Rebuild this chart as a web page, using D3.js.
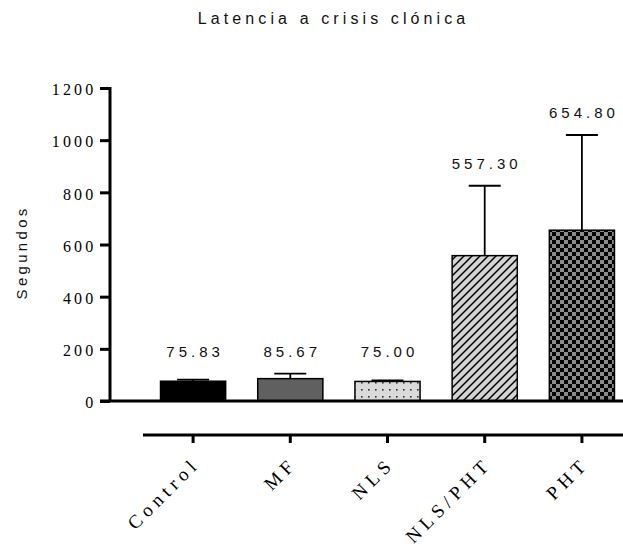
<!DOCTYPE html>
<html>
<head>
<meta charset="utf-8">
<script src="https://cdn.jsdelivr.net/npm/d3@7"></script>
<style>
  html, body { margin: 0; padding: 0; background: #fff; }
  svg { display: block; }
</style>
</head>
<body>
<svg id="chart" width="623" height="550"></svg>
<script>
// Group names, mean latency (s) and error (SEM)
const categories = ["Control", "MF", "NLS", "NLS/PHT", "PHT"];
const means = [75.83, 85.67, 75.00, 557.30, 654.80];
const errors = [6, 19, 4, 268, 365];
const valueLabels = ["75.83", "85.67", "75.00", "557.30", "654.80"];
const yTicks = [0, 200, 400, 600, 800, 1000, 1200];

const svg = d3.select("#chart");
const defs = svg.append("defs");

// Fill patterns for each group
const hatch = defs.append("pattern").attr("id", "hatch")
  .attr("patternUnits", "userSpaceOnUse").attr("width", 8).attr("height", 8);
hatch.append("rect").attr("width", 8).attr("height", 8).attr("fill", "#d4d4d4");
hatch.append("path").attr("d", "M-2,2 L2,-2 M0,8 L8,0 M6,10 L10,6")
  .attr("stroke", "#000").attr("stroke-width", 1.5);

const checker = defs.append("pattern").attr("id", "checker")
  .attr("patternUnits", "userSpaceOnUse").attr("width", 8).attr("height", 8);
checker.append("rect").attr("width", 8).attr("height", 8).attr("fill", "#8a8a8a");
checker.append("rect").attr("width", 4).attr("height", 4).attr("fill", "#000");
checker.append("rect").attr("x", 4).attr("y", 4).attr("width", 4).attr("height", 4).attr("fill", "#000");

const dots = defs.append("pattern").attr("id", "dots")
  .attr("patternUnits", "userSpaceOnUse").attr("width", 7).attr("height", 7)
  .attr("x", 2).attr("y", 2);
dots.append("rect").attr("width", 7).attr("height", 7).attr("fill", "#dadada");
dots.append("rect").attr("x", 2).attr("y", 2).attr("width", 1.6).attr("height", 1.6).attr("fill", "#333");

const fills = ["#000", "#606060", "url(#dots)", "url(#hatch)", "url(#checker)"];

const x = d3.scaleBand().domain(categories).range([144, 631]).paddingInner(0.33).paddingOuter(0.17);
const y = d3.scaleLinear().domain([0, 1200]).range([401, 88]);

const sans = "Liberation Sans, Arial, sans-serif";
const serif = "Liberation Serif, Times New Roman, serif";

// Title
const titleLs = 4.1;
svg.append("text")
  .attr("x", 331.5 + titleLs / 2).attr("y", 24)
  .attr("text-anchor", "middle")
  .attr("font-family", sans)
  .attr("font-size", 16)
  .attr("letter-spacing", titleLs)
  .attr("fill", "#111")
  .text("Latencia a crisis clónica");

// Y axis label
svg.append("text")
  .attr("transform", "translate(27,254) rotate(-90)")
  .attr("text-anchor", "middle")
  .attr("font-family", sans)
  .attr("font-size", 15)
  .attr("letter-spacing", 3.3)
  .attr("dx", 1.6)
  .attr("fill", "#111")
  .text("Segundos");

// Y axis
const yAxis = svg.append("g")
  .attr("transform", "translate(110,0)")
  .call(d3.axisLeft(y).tickValues(yTicks).tickSize(10).tickPadding(3.5).tickFormat(d3.format("d")));
yAxis.select(".domain").attr("stroke-width", 3).attr("d", `M0,${y(1200) - 1}V${y(0)}`);
yAxis.selectAll(".tick line").attr("stroke-width", 3);
yAxis.selectAll(".tick text")
  .attr("font-family", serif)
  .attr("font-size", 16)
  .attr("letter-spacing", 3.2)
  .attr("dy", "0.42em")
  .attr("fill", "#000");

// Bars
const bars = svg.append("g");
bars.selectAll("rect").data(categories).join("rect")
  .attr("x", d => x(d))
  .attr("y", (d, i) => y(means[i]))
  .attr("width", x.bandwidth())
  .attr("height", (d, i) => y(0) - y(means[i]))
  .attr("fill", (d, i) => fills[i])
  .attr("stroke", "#000")
  .attr("stroke-width", 1.5);

// Error bars (upper)
const eb = svg.append("g").attr("stroke", "#000").attr("stroke-width", 1.8);
categories.forEach((c, i) => {
  const cx = x(c) + x.bandwidth() / 2;
  eb.append("line").attr("x1", cx).attr("x2", cx)
    .attr("y1", y(means[i])).attr("y2", y(means[i] + errors[i]));
  eb.append("line").attr("x1", cx - 16).attr("x2", cx + 16)
    .attr("y1", y(means[i] + errors[i])).attr("y2", y(means[i] + errors[i]));
});

// Baseline at zero
svg.append("line")
  .attr("x1", 100).attr("x2", 623)
  .attr("y1", y(0)).attr("y2", y(0))
  .attr("stroke", "#000").attr("stroke-width", 3);

// Value labels above each bar
const valLs = 4;
svg.append("g").selectAll("text").data(categories).join("text")
  .attr("x", d => x(d) + x.bandwidth() / 2 + valLs / 2)
  .attr("y", (d, i) => y(Math.max(means[i] + errors[i], 105)) - 17)
  .attr("text-anchor", "middle")
  .attr("font-family", sans)
  .attr("font-size", 15)
  .attr("letter-spacing", valLs)
  .attr("fill", "#111")
  .text((d, i) => valueLabels[i]);

// Category axis below the plot
const xAxis = svg.append("g")
  .attr("transform", "translate(0,435)")
  .call(d3.axisBottom(x).tickSize(8).tickPadding(6));
xAxis.select(".domain").attr("stroke-width", 3).attr("d", "M143,0H623");
xAxis.selectAll(".tick line").attr("stroke-width", 3);
xAxis.selectAll(".tick text")
  .attr("font-family", serif)
  .attr("font-size", 19)
  .attr("letter-spacing", 5)
  .attr("fill", "#000")
  .attr("text-anchor", "end")
  .attr("x", 0).attr("y", 0)
  .attr("dy", null)
  .attr("transform", "translate(8,30) rotate(-45)");
</script>
</body>
</html>
